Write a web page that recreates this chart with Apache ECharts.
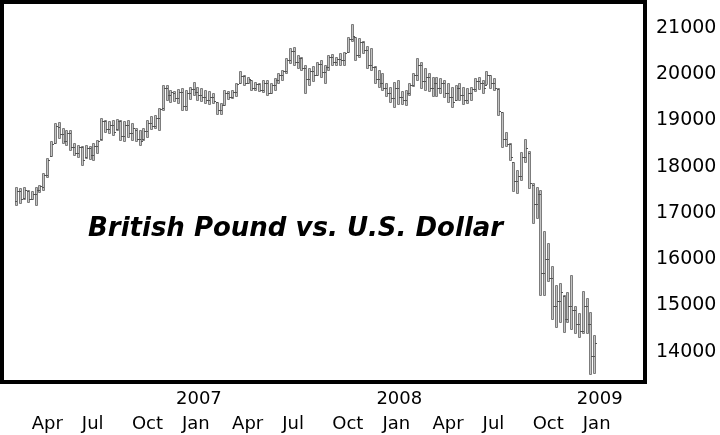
<!DOCTYPE html>
<html>
<head>
<meta charset="utf-8">
<script src="https://cdn.jsdelivr.net/npm/echarts@6/dist/echarts.min.js"></script>
<style>html,body{margin:0;padding:0;background:#fff}#c{width:720px;height:435px}</style>
</head>
<body>
<div id="c"></div>
<script>
// Weekly bars, first week ending 2006-03-10
const firstWeek = '2006-03-10';
const open  = [17250,17480,17320,17480,17310,17420,17500,17560,17820,18230,18520,18870,18700,18560,18720,18420,18300,18420,18200,18400,18250,18440,18600,18980,18820,18900,18820,18980,18660,18900,18720,18800,18600,18600,18780,18940,18880,19060,19260,19700,19560,19600,19480,19620,19320,19600,19680,19620,19560,19500,19450,19500,19400,19220,19340,19600,19500,19620,19820,19960,19820,19880,19700,19780,19660,19820,19600,19760,19880,19990,20060,20300,20500,20260,20350,20140,19900,20080,19990,20220,20050,20150,20380,20260,20340,20300,20490,20760,20800,20420,20700,20520,20200,20150,19900,19820,19700,19600,19480,19700,19500,19450,19600,19760,19980,20200,19850,19950,19700,19800,19700,19800,19600,19500,19450,19700,19550,19450,19600,19680,19850,19800,19770,19980,19800,19680,19180,18600,18500,18100,17700,17800,18200,18300,17600,17200,17400,15700,16000,15600,15000,15100,15200,14700,15000,14900,14600,14450,15000,14600,13900];
const high  = [17570,17540,17570,17500,17470,17560,17600,17860,18190,18550,18940,18960,18830,18800,18800,18510,18470,18440,18470,18440,18510,18580,19050,19010,18980,19010,19030,19010,18980,19010,18940,18830,18800,18830,19010,19090,19120,19270,19770,19770,19660,19630,19680,19700,19660,19730,19840,19730,19700,19660,19630,19590,19410,19370,19660,19630,19660,19810,20060,19990,19950,19880,19840,19810,19880,19880,19810,19910,20020,20090,20350,20560,20580,20420,20380,20200,20130,20170,20270,20310,20200,20420,20430,20380,20450,20490,20810,21080,20810,20780,20710,20600,20560,20170,20090,20020,19810,19730,19840,19880,19630,19660,19810,20020,20350,20270,20130,20020,19950,19950,19910,19880,19810,19730,19770,19810,19730,19700,19730,19910,19950,19880,20060,19990,19910,19700,19190,18760,18510,18110,17930,18310,18600,18330,17650,17570,17500,16620,16350,15850,15450,15490,15230,15300,15670,14980,14840,15310,15160,14870,14370];
const low   = [17180,17220,17300,17250,17300,17180,17450,17500,17790,18220,18510,18620,18510,18470,18360,18260,18220,18040,18190,18150,18150,18290,18580,18760,18730,18690,18800,18580,18550,18650,18580,18550,18470,18580,18650,18800,18830,18800,19230,19450,19410,19410,19370,19230,19230,19480,19550,19450,19410,19370,19340,19370,19160,19140,19340,19450,19480,19520,19810,19770,19810,19660,19660,19630,19630,19550,19590,19660,19810,19880,20020,20240,20200,20130,20090,19590,19770,19840,19990,19950,19810,20090,20200,20200,20200,20200,20490,20710,20310,20380,20450,20130,20090,19810,19730,19660,19520,19410,19300,19370,19340,19340,19550,19730,19880,19700,19660,19630,19550,19550,19590,19520,19410,19300,19450,19450,19370,19370,19450,19630,19700,19590,19770,19700,19660,19120,18440,18450,18150,17480,17430,17700,18100,17540,16780,16900,15230,15230,15520,14700,14550,14650,14440,14650,14510,14400,14330,14400,14400,13540,13540];
const close = [17480,17300,17500,17300,17420,17500,17580,17820,18150,18500,18880,18700,18560,18720,18420,18300,18420,18150,18400,18250,18450,18560,18980,18820,18900,18760,18980,18660,18900,18720,18840,18600,18560,18780,18940,18880,19060,19240,19700,19560,19620,19480,19620,19320,19600,19680,19620,19560,19500,19450,19500,19420,19220,19330,19600,19500,19620,19780,19960,19820,19900,19700,19780,19660,19820,19600,19760,19880,19990,20060,20300,20500,20260,20350,20140,19900,20080,19980,20220,20050,20150,20380,20260,20340,20300,20460,20760,20820,20420,20700,20520,20200,20150,19900,19820,19700,19600,19480,19700,19500,19450,19600,19760,19980,20200,19850,19950,19700,19800,19700,19800,19600,19500,19400,19700,19550,19450,19600,19680,19850,19800,19700,19980,19800,19700,19200,18600,18500,18200,17700,17800,18200,18400,17650,17200,17400,15700,16000,15600,15000,15100,15300,14700,15000,14900,14600,14450,15000,14600,13900,14200];

// Axis labels
const monthLabelDates = ['2006-04-07','2006-07-07','2006-10-06','2007-01-05','2007-04-06','2007-07-06','2007-10-05','2008-01-04','2008-04-04','2008-07-04','2008-10-03','2009-01-02'];
const monthLabels     = ['Apr','Jul','Oct','Jan','Apr','Jul','Oct','Jan','Apr','Jul','Oct','Jan'];
const yearLabelDates  = ['2007-01-05','2008-01-04','2009-01-02'];
const yearLabels      = ['2007','2008','2009'];
const priceTicks      = [14000,15000,16000,17000,18000,19000,20000,21000];
const titleText = 'British Pound vs. U.S. Dollar';

const ts = s => { const p = s.split('-').map(Number); return Date.UTC(p[0], p[1]-1, p[2]); };
const DAY = 86400000;
const t0 = ts(firstWeek);
const bars = open.map((o, i) => [t0 + i*7*DAY, o, high[i], low[i], close[i]]);
const monthMap = new Map(monthLabelDates.map((d, i) => [ts(d), monthLabels[i]]));
const yearMap = new Map(yearLabelDates.map((d, i) => [ts(d), yearLabels[i]]));

const FONT = 'DejaVu Sans';
const xMin = ts('2006-02-12'), xMax = ts('2009-04-25');

const chart = echarts.init(document.getElementById('c'), null, {renderer: 'canvas'});
chart.setOption({
  animation: false,
  backgroundColor: '#fff',
  title: {
    text: titleText, left: 83, top: 211,
    textStyle: {fontFamily: FONT, fontSize: 26, fontWeight: 'bold', fontStyle: 'italic', color: '#000'}
  },
  grid: {left: 2, top: 2, right: 75, bottom: 53, show: true, borderColor: '#000', borderWidth: 4, backgroundColor: '#fff'},
  xAxis: [{
    type: 'value', min: xMin, max: xMax, position: 'bottom',
    axisLine: {show: false}, axisTick: {show: false}, splitLine: {show: false},
    axisLabel: {customValues: monthLabelDates.map(ts), formatter: v => monthMap.get(v) || '',
      align: 'left', margin: 33, fontFamily: FONT, fontSize: 18, color: '#000'}
  }, {
    type: 'value', min: xMin, max: xMax, position: 'bottom', gridIndex: 0,
    axisLine: {show: false}, axisTick: {show: false}, splitLine: {show: false},
    axisLabel: {customValues: yearLabelDates.map(ts), formatter: v => yearMap.get(v) || '',
      align: 'left', margin: 8, padding: [0, 0, 0, -6], fontFamily: FONT, fontSize: 18, color: '#000'}
  }],
  yAxis: {
    type: 'value', position: 'right', min: 13346, max: 21562,
    axisLine: {show: false}, axisTick: {show: false}, splitLine: {show: false},
    axisLabel: {customValues: priceTicks, formatter: v => String(v), margin: 11,
      fontFamily: FONT, fontSize: 19, color: '#000', align: 'left'}
  },
  series: [{
    type: 'custom', xAxisIndex: 0, yAxisIndex: 0,
    data: bars,
    encode: {x: 0, y: [1, 2, 3, 4]},
    renderItem: function (params, api) {
      const x = api.value(0);
      const o = api.coord([x, api.value(1)]);
      const h = api.coord([x, api.value(2)]);
      const l = api.coord([x, api.value(3)]);
      const c = api.coord([x, api.value(4)]);
      const cx = Math.round(o[0]);
      return {
        type: 'group',
        children: [
          {type: 'rect', shape: {x: cx - 0.5, y: Math.round(h[1]) + 0.5, width: 2, height: Math.max(1, Math.round(l[1] - h[1]))},
           style: {fill: '#c4c4c4', stroke: '#7c7c7c', lineWidth: 1}},
          {type: 'line', shape: {x1: cx - 1, y1: Math.round(o[1]) + 0.5, x2: cx + 1, y2: Math.round(o[1]) + 0.5}, style: {stroke: '#555', lineWidth: 1}},
          {type: 'line', shape: {x1: cx + 1, y1: Math.round(c[1]) + 0.5, x2: cx + 3, y2: Math.round(c[1]) + 0.5}, style: {stroke: '#555', lineWidth: 1}}
        ]
      };
    }
  }]
});
</script>
</body>
</html>
